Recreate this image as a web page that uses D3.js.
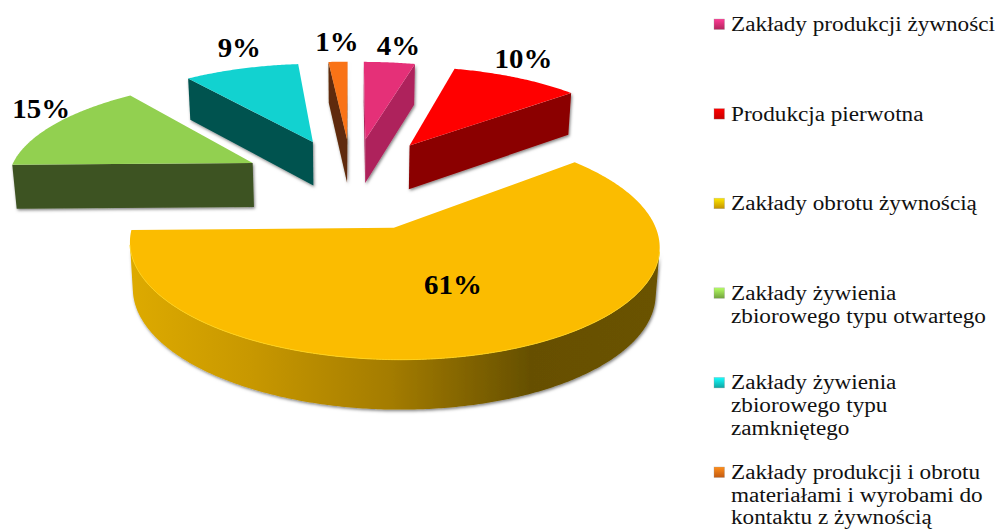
<!DOCTYPE html>
<html><head><meta charset="utf-8">
<script src="https://cdn.jsdelivr.net/npm/d3@7/dist/d3.min.js"></script>
<style>html,body{margin:0;padding:0;background:#fff}svg{display:block}text{font-family:"Liberation Serif",serif}</style>
</head><body><svg id="c" width="999" height="529"></svg>
<script>
const categories = [
  ["Zakłady produkcji żywności"],
  ["Produkcja pierwotna"],
  ["Zakłady obrotu żywnością"],
  ["Zakłady żywienia","zbiorowego typu otwartego"],
  ["Zakłady żywienia","zbiorowego typu","zamkniętego"],
  ["Zakłady produkcji i obrotu","materiałami i wyrobami do","kontaktu z żywnością"]
];
const values = [4, 10, 60.7, 14.86, 8.95, 1.49];
const valueLabels = ["4%","10%","61%","15%","9%","1%"];
const topColors = ["#E53078","#FF0000","#FBBC00","#92D050","#12D2D0","#F97316"];
const wallColors = ["#AE245B","#8B0000","url(#yw)","#3D5221","#05524F","#5F2C08"];

// layout: perspective camera & label placement
const cam = {vx:352, ax:246.2, horizon:-533, k:715.2, p:0.1389, depth:44.7, conv:0.987};
const explode = 0.46;
const labelRadius = [1,1,0.5,1,1,1];
const labelNudge = [[9,-7],[7,-10],[7,10],[-13,-6],[-2,-12],[-1,-11]];
const yellowStops = [[131,"#DDAA00"],[250,"#C89800"],[390,"#A47C00"],[530,"#665000"],[660,"#6A5200"]];

const svg = d3.select("#c");
const defs = svg.append("defs");
const xs = d3.scaleLinear().domain([0,1]).range([cam.vx, cam.vx+cam.ax]);
const w = Z => 1 + cam.p*Z;
const top3 = (X,Z) => [cam.vx + (xs(X)-cam.vx)/w(Z), cam.horizon + cam.k/w(Z)];
const bot3 = (X,Z) => { const t = top3(X,Z);
  return [cam.vx + (t[0]-cam.vx)*cam.conv, t[1] + cam.depth/Math.sqrt(w(Z))]; };

const gx = d3.scaleLinear().domain([yellowStops[0][0], yellowStops[yellowStops.length-1][0]]).range([0,1]);
const yg = defs.append("linearGradient").attr("id","yw").attr("gradientUnits","userSpaceOnUse")
  .attr("x1",gx.invert(0)).attr("x2",gx.invert(1)).attr("y1",0).attr("y2",0);
yellowStops.forEach(s=>yg.append("stop").attr("offset",gx(s[0])).attr("stop-color",s[1]));
const f = defs.append("filter").attr("id","sh").attr("filterUnits","userSpaceOnUse")
  .attr("x",0).attr("y",0).attr("width",999).attr("height",529);
f.append("feDropShadow").attr("dx",1).attr("dy",1.5).attr("stdDeviation",1.8)
  .attr("flood-color","#000").attr("flood-opacity",0.5);

const line = d3.line().curve(d3.curveLinear);
const closed = pts => line(pts)+"Z";
const arcs = d3.pie().sort(null).startAngle(0).endAngle(2*Math.PI)(values);

const slices = arcs.map((a,i)=>{
  const mid=(a.startAngle+a.endAngle)/2, ox=explode*Math.sin(mid), oz=explode*Math.cos(mid);
  const n=Math.max(4,Math.ceil((a.endAngle-a.startAngle)/0.01));
  const world=[[ox,oz]].concat(d3.range(n+1).map(j=>{
    const t=a.startAngle+(a.endAngle-a.startAngle)*j/n; return [ox+Math.sin(t),oz+Math.cos(t)];}));
  return {i,mid,ox,oz,world};
});

const g = svg.append("g");
slices.slice().sort((a,b)=>b.oz-a.oz).forEach(s=>{
  const T=s.world.map(p=>top3(p[0],p[1])), B=s.world.map(p=>bot3(p[0],p[1]));
  const sign=Math.sign(d3.polygonArea(T)), N=T.length;
  const walls=g.append("g").attr("filter","url(#sh)");
  const rim=[];
  // contiguous runs of boundary edges that face the viewer
  let run=[];
  const flush=()=>{ if(run.length){
    const pts=run.map(k=>T[k]).concat(run.slice().reverse().map(k=>B[k]));
    walls.append("path").attr("d",closed(pts)).attr("fill",wallColors[s.i]);
    if(s.i===2) rim.push(run.map(k=>T[k]));
    run=[]; } };
  for(let k=0;k<N;k++){
    const a=k, b=(k+1)%N;
    const q=d3.polygonArea([T[a],T[b],B[b],B[a]]);
    if(Math.sign(q)!==sign && q!==0){ if(!run.length) run.push(a); run.push(b); }
    else flush();
  }
  flush();
  g.append("path").attr("d",closed(T)).attr("fill",topColors[s.i]);
  rim.forEach(r=>g.append("path").attr("d",line(r)).attr("fill","none").attr("stroke","#FFD21A").attr("stroke-width",1));
});

// value labels
slices.forEach(s=>{
  const r=labelRadius[s.i];
  const p=top3(s.ox+r*Math.sin(s.mid), s.oz+r*Math.cos(s.mid));
  svg.append("text").attr("transform",`translate(${p[0]+labelNudge[s.i][0]},${p[1]+labelNudge[s.i][1]}) scale(1.07,1)`)
    .attr("text-anchor","middle").attr("font-size",27).attr("font-weight","bold")
    .attr("fill","#000").text(valueLabels[s.i]);
});

// legend
const ly=d3.scaleLinear().domain([0,5]).range([31,479]);
const leg=svg.append("g");
categories.forEach((lines,i)=>{
  const y=ly(i);
  const id="lg"+i;
  const lg=defs.append("linearGradient").attr("id",id).attr("x1",0).attr("y1",0).attr("x2",0).attr("y2",1);
  lg.append("stop").attr("offset",0).attr("stop-color",d3.color(topColors[i]).brighter(0.6));
  lg.append("stop").attr("offset",1).attr("stop-color",d3.color(topColors[i]).darker(0.7));
  leg.append("rect").attr("x",714).attr("y",y-12).attr("width",10.5).attr("height",10.5)
    .attr("fill","url(#"+id+")").attr("stroke","#999").attr("stroke-opacity",0.5).attr("stroke-width",0.6);
  lines.forEach((t,j)=>leg.append("text").attr("transform",`translate(731,${y+j*22.7}) scale(1.16,1)`)
    .attr("font-size",20).attr("fill","#111").text(t));
});
</script></body></html>
